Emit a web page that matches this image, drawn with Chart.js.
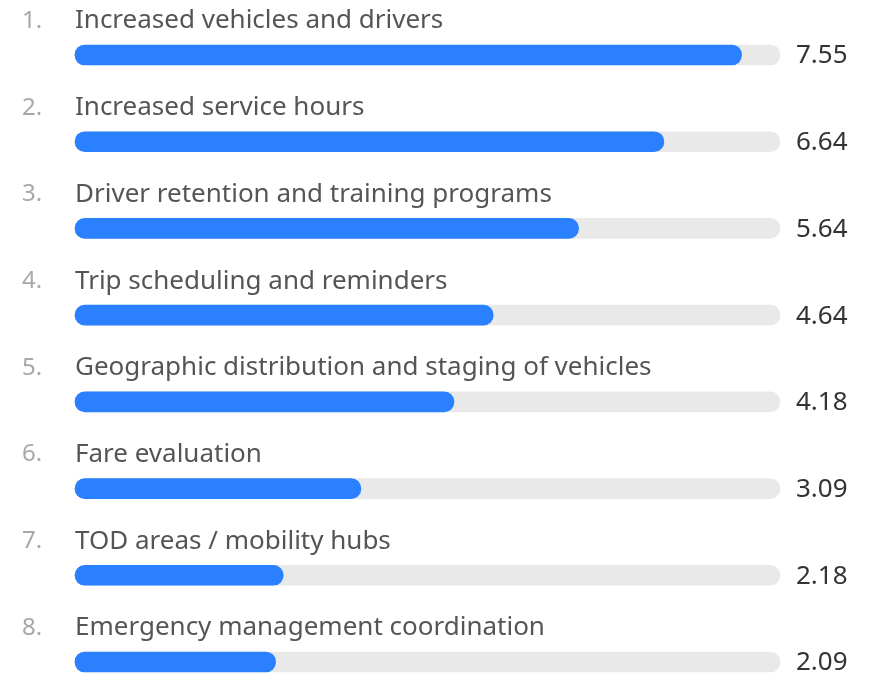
<!DOCTYPE html>
<html>
<head>
<meta charset="utf-8">
<script src="https://cdn.jsdelivr.net/npm/chart.js@4.4.1/dist/chart.umd.min.js"></script>
<style>
  html, body { margin: 0; padding: 0; background: #fff; }
  #wrap { width: 869px; height: 674px; position: relative; }
</style>
</head>
<body>
<div id="wrap"><canvas id="priorities"></canvas></div>
<script>
const categories = [
  "Increased vehicles and drivers",
  "Increased service hours",
  "Driver retention and training programs",
  "Trip scheduling and reminders",
  "Geographic distribution and staging of vehicles",
  "Fare evaluation",
  "TOD areas / mobility hubs",
  "Emergency management coordination",
];
const scores = [7.55, 6.64, 5.64, 4.64, 4.18, 3.09, 2.18, 2.09];
const scaleMax = 8;
// bars start a little left of zero so a score of 0 still shows its rounded cap
const scaleMin = -0.26;

const FONT = "'Noto Sans', 'Open Sans', sans-serif";

// rank numbers, names above each bar and the score on the right
const rowText = {
  id: "rowText",
  afterDatasetsDraw(chart) {
    const { ctx, chartArea } = chart;
    const meta = chart.getDatasetMeta(1);
    ctx.save();
    ctx.textBaseline = "middle";
    ctx.textAlign = "left";
    meta.data.forEach((bar, i) => {
      const y = bar.y;
      ctx.font = "24px " + FONT;
      ctx.fillStyle = "#a8a8a8";
      ctx.fillText((i + 1) + ".", 22, y - 34);
      ctx.fillStyle = "#555555";
      ctx.font = "26px " + FONT;
      ctx.fillText(categories[i], chartArea.left, y - 34);
      ctx.fillStyle = "#333333";
      ctx.font = "26px " + FONT;
      ctx.fillText(scores[i].toFixed(2), chartArea.right + 16, y + 1);
    });
    ctx.restore();
  },
};

new Chart(document.getElementById("priorities"), {
  type: "bar",
  data: {
    labels: categories,
    datasets: [
      {
        label: "track",
        data: categories.map(() => scaleMax),
        base: scaleMin,
        backgroundColor: "#e9e9e9",
        borderRadius: 10,
        borderSkipped: false,
        barThickness: 20,
        grouped: false,
        order: 2,
        clip: false,
      },
      {
        label: "score",
        data: scores,
        base: scaleMin,
        backgroundColor: "#2a80fe",
        borderRadius: 10,
        borderSkipped: false,
        barThickness: 20,
        grouped: false,
        order: 1,
        clip: false,
      },
    ],
  },
  options: {
    indexAxis: "y",
    responsive: true,
    maintainAspectRatio: false,
    animation: false,
    layout: { padding: { left: 75, right: 89, top: 55, bottom: 12 } },
    scales: {
      x: { display: false, min: scaleMin, max: scaleMax },
      y: { display: false, offset: false },
    },
    plugins: {
      legend: { display: false },
      tooltip: { enabled: false },
    },
  },
  plugins: [rowText],
});
</script>
</body>
</html>
